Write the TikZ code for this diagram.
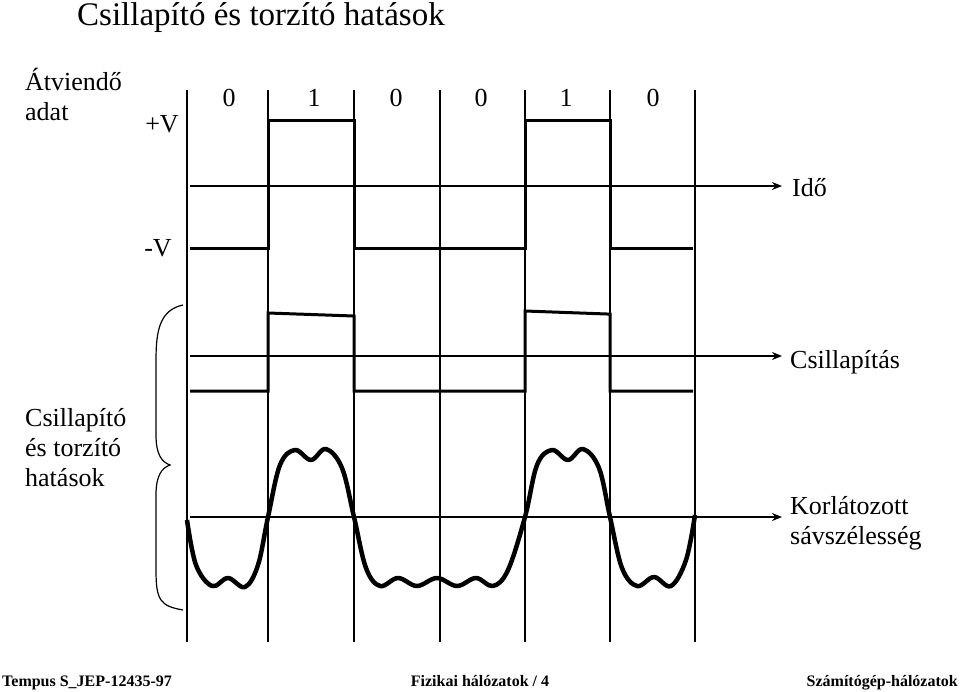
\documentclass[tikz,border=0pt]{standalone}
\usepackage{fontspec}
\setmainfont{Liberation Serif}
\usetikzlibrary{arrows.meta}
\begin{document}
\begin{tikzpicture}[x=1pt,y=-1pt,
  lbl/.style={font=\fontsize{26}{30}\selectfont,inner sep=0pt},
  foot/.style={font=\bfseries\fontsize{16}{18}\selectfont,inner sep=0pt},
  sig/.style={line width=3pt},
  grid/.style={line width=1.5pt},
  ax/.style={line width=2pt,-{Stealth[length=10pt,width=8pt]}}]
\useasboundingbox (0,0) rectangle (960,691);
\node[lbl,font=\fontsize{33}{38}\selectfont,anchor=base west] (title) at (77,25) {Csillapító és torzító hatások};
\foreach \x in {187,268,354,440,525,610,695} \draw[grid] (\x,90) -- (\x,642);
\foreach \t/\x in {0/229,1/314,0/396,0/481,1/566,0/653} \node[lbl] at (\x,98) {\t};
\node[lbl,anchor=west,align=left] (ad) at (25,94) {Átviendő\\adat};
\node[lbl] (pv) at (162,124) {+V};
\node[lbl] (mv) at (158,248) {-V};
% axis 1
\coordinate (a1s) at (190,186); \coordinate (a1e) at (782,186);
\draw[ax] (a1s) -- (a1e);
\node[lbl,anchor=west] (ido) at (792,188) {Idő};
\draw[sig] (190,248) -- (268,248) -- (268,120) -- (354,120) -- (354,248) -- (525,248) -- (525,120) -- (610,120) -- (610,248) -- (693,248);
% axis 2
\coordinate (a2s) at (190,356); \coordinate (a2e) at (782,356);
\draw[ax] (a2s) -- (a2e);
\node[lbl,anchor=west] (csi) at (790,362) {Csillapítás};
\draw[sig] (190,391) -- (268,391) -- (268,313) -- (354,316) -- (354,391) -- (525,391) -- (525,311) -- (607,314) -- (610,314) -- (610,391) -- (693,391);
% axis 3
\coordinate (a3s) at (190,517); \coordinate (a3e) at (782,517);
\draw[ax] (a3s) -- (a3e);
\node[lbl,anchor=west,align=left] (kor) at (790,523) {Korlátozott\\sávszélesség};
\draw[line width=4.5pt,line join=round] plot[smooth,tension=0.6] coordinates {
 (187,520) (196,565) (212,586) (228,578) (245,587) (258,565) (268,517) (280,465) (295,450) (311,460) (326,449) (342,468) (354,517)
 (366,568) (380,586) (398,578) (417,586) (437,578) (457,586) (476,578) (493,586) (508,570) (525,517) (537,465) (552,450) (568,460) (583,449) (599,468) (610,517)
 (622,568) (637,586) (654,577) (671,586) (686,560) (695,515)};
% brace
\draw[line width=1.2pt] (183,305) .. controls (160,310) and (156,330) .. (156,360) -- (156,435) .. controls (156,455) and (162,462) .. (170,465)
  .. controls (162,468) and (156,475) .. (156,495) -- (156,570) .. controls (156,600) and (160,606) .. (183,610);
\node[lbl,anchor=west,align=left] (cst) at (25,448) {Csillapító\\és torzító\\hatások};
\node[foot,anchor=base west] (f1) at (2,686) {Tempus S\_JEP-12435-97};
\node[foot,anchor=base] (f2) at (480,686) {Fizikai hálózatok / 4};
\node[foot,anchor=base east] (f3) at (958,686) {Számítógép-hálózatok};
\end{tikzpicture}
\end{document}
